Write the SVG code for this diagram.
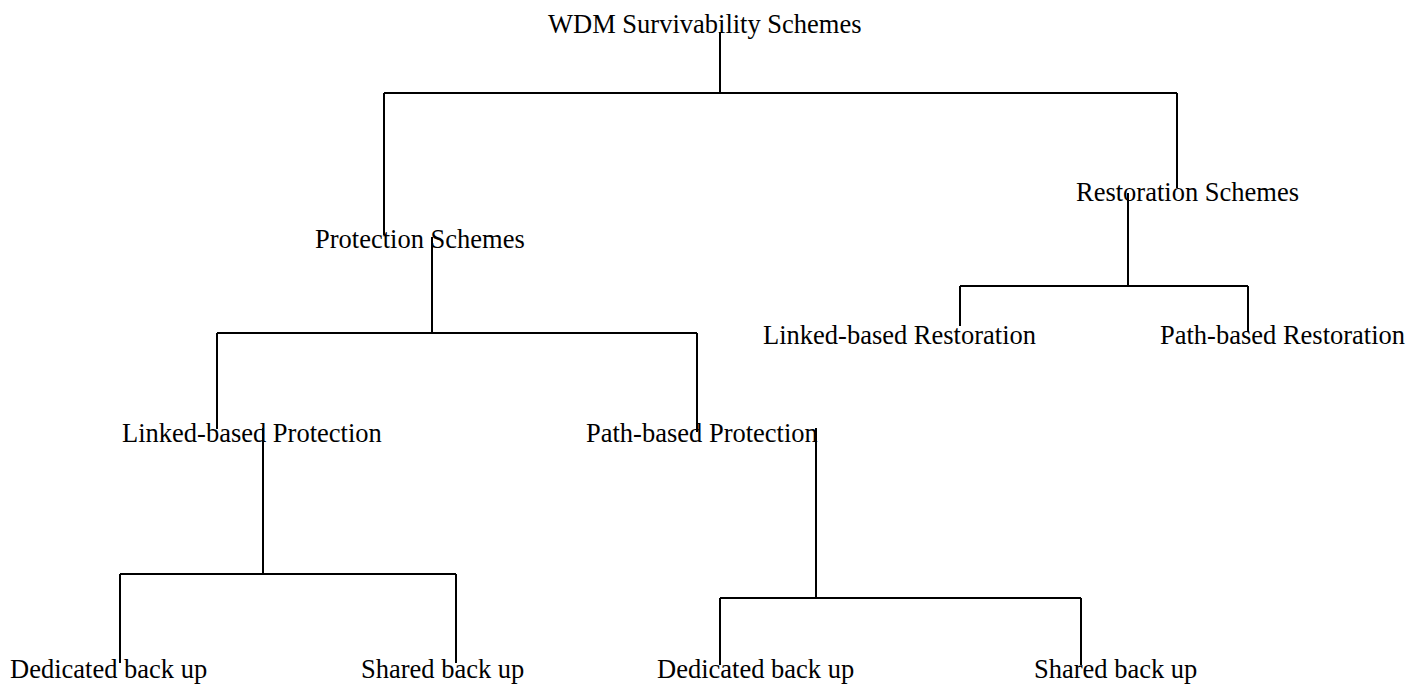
<svg xmlns="http://www.w3.org/2000/svg" width="1425" height="687" viewBox="0 0 1425 687">
<style>
.lbl{font-family:"Liberation Serif","Times New Roman",serif;font-size:26.5px;fill:#000}
.c{stroke:#000;stroke-width:2;fill:none}
</style>
<rect width="1425" height="687" fill="#fff"/>
<g id="connectors">
<path class="c" d="M720 32V93M384 93H1177M384 93V235M1177 93V188"/>
<path class="c" d="M432 237V333M217 333H697M217 333V429M697 333V432"/>
<path class="c" d="M1128 193V286M960 286H1248M960 286V326M1248 286V332"/>
<path class="c" d="M263 428V574M120 574H456M120 574V663M456 574V663"/>
<path class="c" d="M816 428V598M720 598H1081M720 598V665M1081 598V665"/>
</g>
<g id="n_root"><text class="lbl" x="548" y="33">WDM Survivability Schemes</text></g>
<g id="n_protection"><text class="lbl" x="315" y="248">Protection Schemes</text></g>
<g id="n_restoration"><text class="lbl" x="1076" y="201">Restoration Schemes</text></g>
<g id="n_link_rest"><text class="lbl" x="763" y="344">Linked-based Restoration</text></g>
<g id="n_path_rest"><text class="lbl" x="1160" y="344">Path-based Restoration</text></g>
<g id="n_link_prot"><text class="lbl" x="122" y="442">Linked-based Protection</text></g>
<g id="n_path_prot"><text class="lbl" x="586" y="442">Path-based Protection</text></g>
<g id="n_lp_ded"><text class="lbl" x="10" y="678">Dedicated back up</text></g>
<g id="n_lp_sh"><text class="lbl" x="361" y="678">Shared back up</text></g>
<g id="n_pp_ded"><text class="lbl" x="657" y="678">Dedicated back up</text></g>
<g id="n_pp_sh"><text class="lbl" x="1034" y="678">Shared back up</text></g>
</svg>
